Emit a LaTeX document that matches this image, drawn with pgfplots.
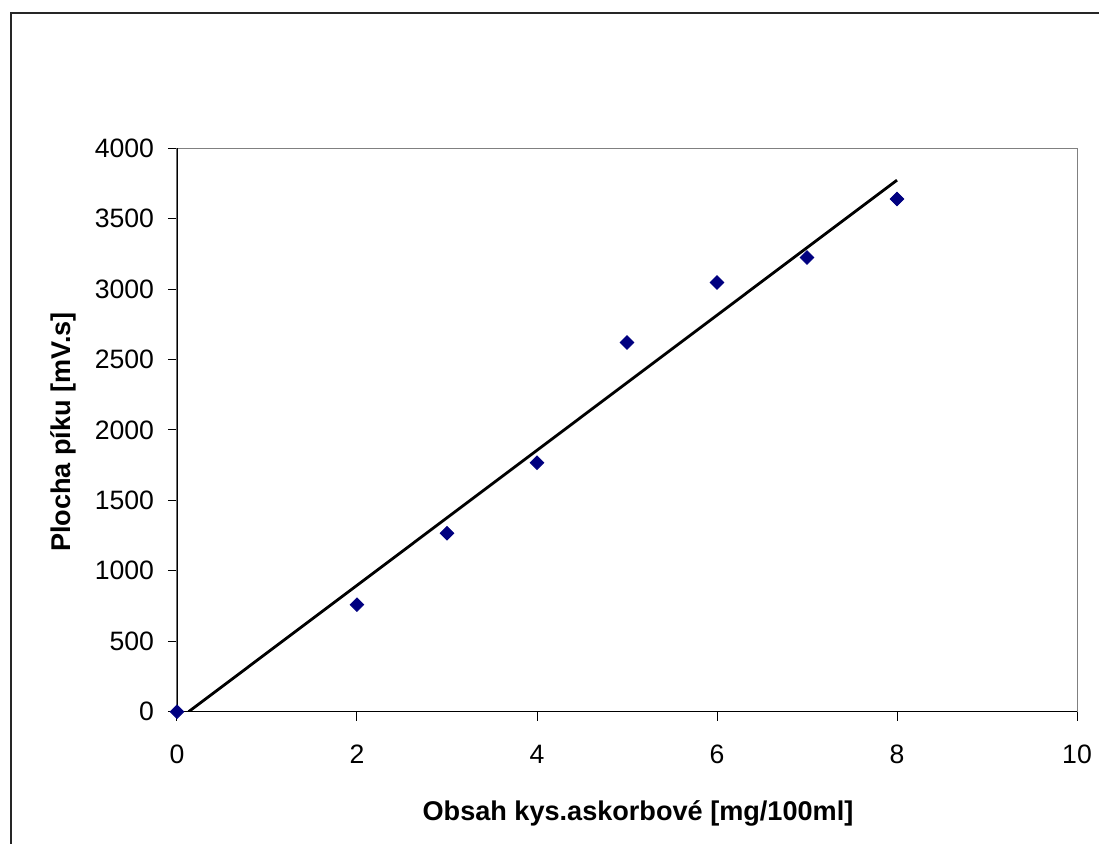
\documentclass[border=0pt]{standalone}
\usepackage{fontspec}
\setmainfont{Liberation Sans}
\usepackage{pgfplots}
\pgfplotsset{compat=1.18}
\definecolor{navyc}{RGB}{0,0,128}
\begin{document}
\begin{tikzpicture}
\path[use as bounding box] (0,0) rectangle (549.5pt,422pt);
\draw[line width=0.6pt, black!85] (5.5pt,-5pt) -- (5.5pt,415.5pt) -- (560pt,415.5pt);
\begin{axis}[
  at={(88.5pt,66.15pt)}, anchor=south west,
  scale only axis, width=450pt, height=281.7pt,
  xmin=0, xmax=10, ymin=0, ymax=4000,
  xtick={0,2,...,10}, ytick={0,500,...,4000},
  xtick pos=bottom, ytick pos=left,
  tick align=outside, major tick length=4.5pt,
  tick style={black, line width=0.5pt},
  axis line style={draw=gray, line width=0.5pt},
  /pgf/number format/assume math mode=true,
  ticklabel style={font=\fontsize{13.3}{16}\selectfont},
  xticklabel style={yshift=-8.5pt},
  yticklabel style={xshift=-3.5pt},
  scaled ticks=false,
  yticklabel style={/pgf/number format/1000 sep={}},
  xlabel={\bfseries Obsah kys.askorbové [mg/100ml]},
  ylabel={\bfseries Plocha píku [mV.s]},
  label style={font=\fontsize{13.55}{16}\selectfont\bfseries},
  xlabel style={at={([xshift=5.5pt,yshift=-51pt]axis description cs:0.5,0)}, anchor=center},
  ylabel style={at={([xshift=-57pt,yshift=-1pt]axis description cs:0,0.5)}, anchor=center},
  clip=true,
]
\addplot[black, line width=1.4pt] coordinates {(0.129,0) (8,3774)};
\addplot[only marks, mark=square*, mark size=2.4pt, mark options={rotate=45, fill=navyc, draw=navyc}] coordinates {
(0,0) (2,760) (3,1267) (4,1768) (5,2621) (6,3047) (7,3224) (8,3640)};
\draw[black, line width=0.6pt] (rel axis cs:0,1) -- (rel axis cs:0,0) -- (rel axis cs:1,0);
\end{axis}
\end{tikzpicture}
\end{document}
